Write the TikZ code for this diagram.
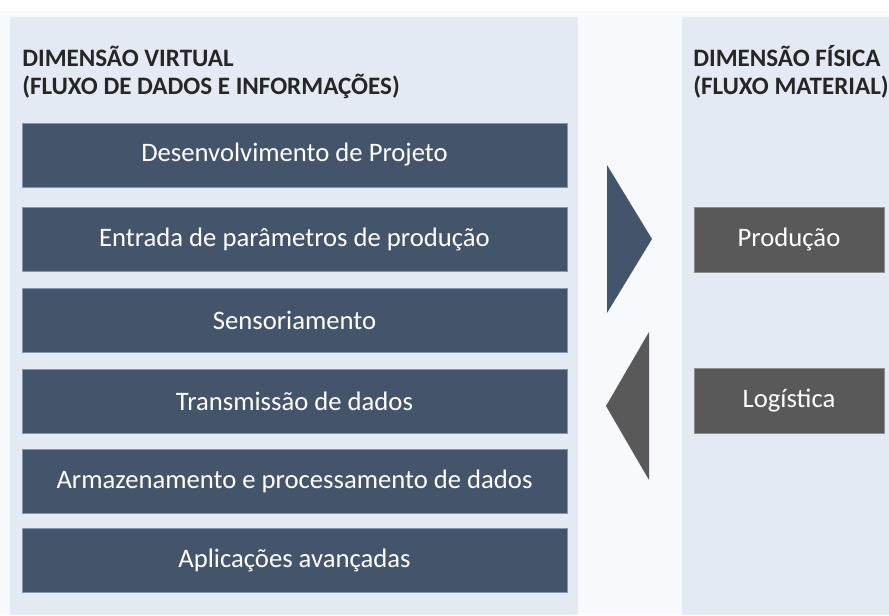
\documentclass[tikz,border=0pt]{standalone}
\usepackage{fontspec}
\setmainfont{Carlito}
\usepackage{xcolor}
\usetikzlibrary{positioning}

\definecolor{fundo}{HTML}{F7F9FC}
\definecolor{painel}{HTML}{E3EAF4}
\definecolor{azulescuro}{HTML}{44546A}
\definecolor{bordaazul}{HTML}{8496B0}
\definecolor{cinza}{HTML}{595959}
\definecolor{bordacinza}{HTML}{8C8C8C}
\definecolor{titulo}{HTML}{262626}

\begin{document}
\begin{tikzpicture}[x=0.75pt,y=-0.75pt,
  virtualbox/.style={fill=azulescuro, draw=bordaazul, line width=0.6pt,
    minimum width=408.75pt, minimum height=48pt, inner sep=0pt,
    text=white, font=\fontsize{20}{24}\selectfont},
  fisicobox/.style={fill=cinza, draw=bordacinza, line width=0.6pt,
    minimum width=142.5pt, minimum height=48.75pt, inner sep=0pt,
    text=white, font=\fontsize{20}{24}\selectfont},
  titulo/.style={anchor=base west, inner sep=0pt, text=titulo,
    font=\bfseries\fontsize{18.8}{22}\selectfont}]

\useasboundingbox (0,0) rectangle (889,615);
\clip (0,0) rectangle (889,615);

% Fundos
\fill[fundo] (0,10) rectangle (889,615);
\fill[painel] (10,17) rectangle (578,615);
\fill[painel] (682,17) rectangle (900,615);

% Dimensão virtual
\node[titulo] (tv1) at (22,66) {DIMENSÃO VIRTUAL};
\node[titulo] (tv2) at (22,94) {(FLUXO DE DADOS E INFORMAÇÕES)};

\node[virtualbox] (projeto)  at (294.5,155)   {Desenvolvimento de Projeto};
\node[virtualbox] (entrada)  at (294.5,239)   {Entrada de parâmetros de produção};
\node[virtualbox] (sensor)   at (294.5,320.5) {Sensoriamento};
\node[virtualbox] (transm)   at (294.5,401)   {Transmissão de dados};
\node[virtualbox] (armaz)    at (294.5,481)   {Armazenamento e processamento de dados};
\node[virtualbox] (aplic)    at (294.5,560.5) {Aplicações avançadas};

% Setas
\fill[azulescuro] (607,165) -- (652,239) -- (607,313) -- cycle;
\fill[cinza] (649,332) -- (606,406) -- (649,480) -- cycle;

% Dimensão física
\node[titulo] (tf1) at (693,66) {DIMENSÃO FÍSICA};
\node[titulo] (tf2) at (693,94) {(FLUXO MATERIAL)};

\node[fisicobox] (producao)  at (789,239.5) {Produção};
\node[fisicobox] (logistica) at (789,400.5) {Logística};

\end{tikzpicture}
\end{document}
